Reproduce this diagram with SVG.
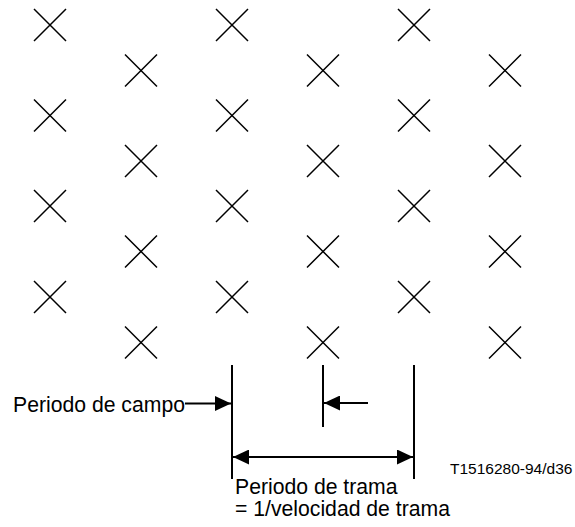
<svg xmlns="http://www.w3.org/2000/svg" width="575" height="527" viewBox="0 0 575 527">
<style>
.x{stroke:#000;stroke-width:1.5;fill:none}
.ln{stroke:#000;stroke-width:2;fill:none}
.t{font-family:"Liberation Sans",Arial,sans-serif;fill:#000}
</style>
<defs>
<path id="c" class="x" d="M-16,-16L16,16M16,-16L-16,16"/>
<marker id="ah" viewBox="0 0 16 15" refX="16" refY="7.5" markerWidth="16" markerHeight="15" markerUnits="userSpaceOnUse" orient="auto-start-reverse">
<path d="M0,0L16,7.5L0,15Z" fill="#000"/>
</marker>
</defs>
<rect width="575" height="527" fill="#fff"/>
<g id="crosses">
<use href="#c" x="50" y="25"/><use href="#c" x="232" y="25"/><use href="#c" x="414" y="25"/>
<use href="#c" x="141" y="70.5"/><use href="#c" x="323" y="70.5"/><use href="#c" x="505" y="70.5"/>
<use href="#c" x="50" y="115.5"/><use href="#c" x="232" y="115.5"/><use href="#c" x="414" y="115.5"/>
<use href="#c" x="141" y="161"/><use href="#c" x="323" y="161"/><use href="#c" x="505" y="161"/>
<use href="#c" x="50" y="206"/><use href="#c" x="232" y="206"/><use href="#c" x="414" y="206"/>
<use href="#c" x="141" y="251.5"/><use href="#c" x="323" y="251.5"/><use href="#c" x="505" y="251.5"/>
<use href="#c" x="50" y="297"/><use href="#c" x="232" y="297"/><use href="#c" x="414" y="297"/>
<use href="#c" x="141" y="342.5"/><use href="#c" x="323" y="342.5"/><use href="#c" x="505" y="342.5"/>
</g>
<g id="connectors">
<line class="ln" x1="232" y1="365" x2="232" y2="479"/>
<line class="ln" x1="414" y1="365" x2="414" y2="479"/>
<line class="ln" x1="323" y1="365" x2="323" y2="427"/>
<line class="ln" x1="185" y1="403.5" x2="231" y2="403.5" marker-end="url(#ah)"/>
<line class="ln" x1="368" y1="403" x2="324" y2="403" marker-end="url(#ah)"/>
<line class="ln" x1="233" y1="457" x2="413" y2="457" marker-start="url(#ah)" marker-end="url(#ah)"/>
</g>
<g id="labels">
<text class="t" x="13" y="411.5" font-size="21.2">Periodo de campo</text>
<text class="t" x="235" y="494" font-size="21.2">Periodo de trama</text>
<text class="t" x="235" y="515.5" font-size="21.2">= 1/velocidad de trama</text>
<text class="t" x="450" y="473.5" font-size="15.5">T1516280-94/d36</text>
</g>
</svg>
